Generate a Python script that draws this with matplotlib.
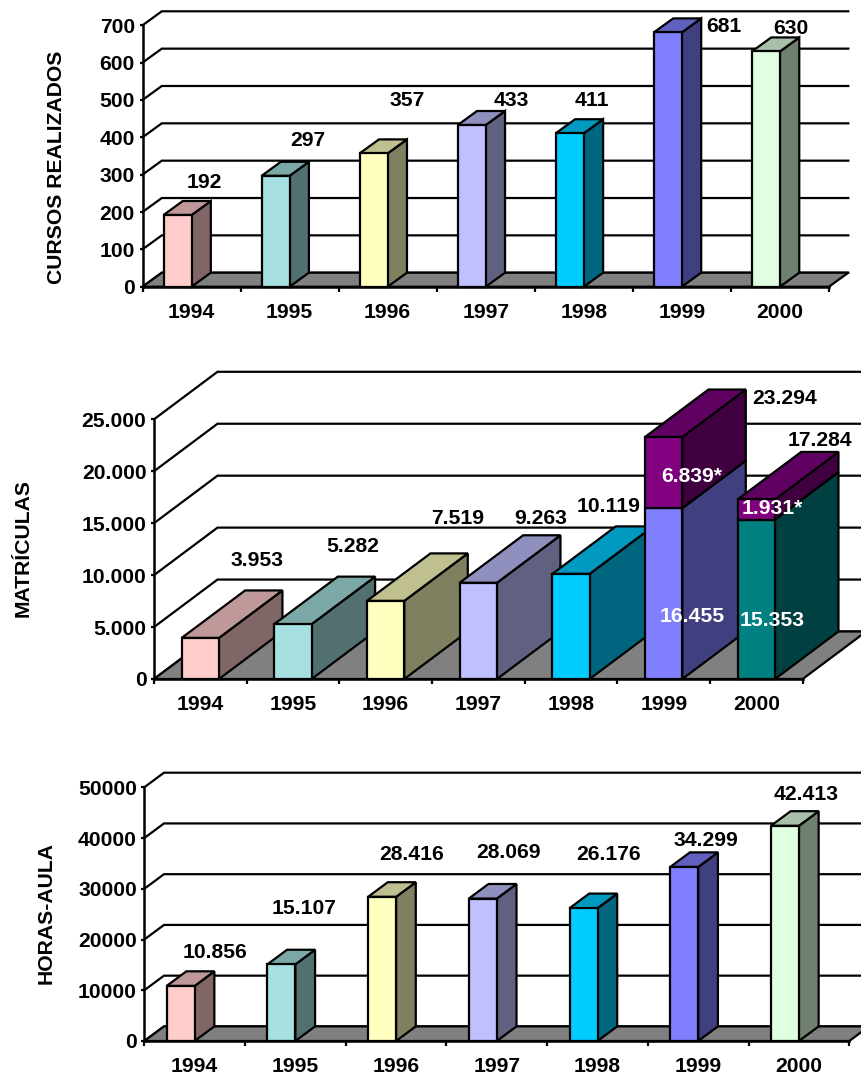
import matplotlib
matplotlib.use("Agg")
import matplotlib.pyplot as plt
from matplotlib.patches import Polygon

plt.rcParams['font.family'] = ['Liberation Sans', 'DejaVu Sans']
plt.rcParams['font.weight'] = 'bold'

W, H = 861, 1077
FS = 15.2
LW = 1.6

years = ['1994', '1995', '1996', '1997', '1998', '1999', '2000']

# value series
cursos = [192, 297, 357, 433, 411, 681, 630]
matriculas = [3953, 5282, 7519, 9263, 10119, 16455, 15353]
matriculas_extra = [0, 0, 0, 0, 0, 6839, 1931]
horas = [10856, 15107, 28416, 28069, 26176, 34299, 42413]

# printed labels and where they sit, in pixels from the top left
cursos_labels = ['192', '297', '357', '433', '411', '681', '630']
cursos_pos = [(204, 183), (308, 141), (407, 101), (511, 101), (592, 100), (724, 27), (791, 28)]
matric_labels = ['3.953', '5.282', '7.519', '9.263', '10.119', '23.294', '17.284']
matric_pos = [(257, 561), (353, 547), (458, 519), (541, 519), (609, 506), (785, 399), (820, 441)]
matric_white = ['6.839*', '1.931*', '16.455', '15.353']
matric_white_pos = [(692, 477), (772, 509), (692, 617), (772, 620)]
horas_labels = ['10.856', '15.107', '28.416', '28.069', '26.176', '34.299', '42.413']
horas_pos = [(215, 953), (304, 908), (412, 854), (508, 853), (609, 854), (706, 840), (806, 795)]

front_colors = ['#FFCCCC', '#A6E0E0', '#FFFFC0', '#C0C0FF', '#00CCFF', '#8080FF', '#E0FFE0']
matric_colors = ['#FFCCCC', '#A6E0E0', '#FFFFC0', '#C0C0FF', '#00CCFF', '#8080FF', '#008080']
extra_color = '#800080'


def shade(color, k):
    rgb = matplotlib.colors.to_rgb(color)
    return tuple(c * k for c in rgb)


def px_text(fig, x, y, s, **kw):
    fig.text(x / W, 1 - y / H, s, ha='center', va='center', fontsize=FS, fontweight='bold', **kw)


def box(ax, x0, x1, y0, y1, dx, dy, color, z):
    # front, side and top faces of one bar segment
    faces = [
        ([(x1, y0), (x1 + dx, y0 + dy), (x1 + dx, y1 + dy), (x1, y1)], shade(color, 0.5)),
        ([(x0, y1), (x1, y1), (x1 + dx, y1 + dy), (x0 + dx, y1 + dy)], shade(color, 0.75)),
        ([(x0, y0), (x1, y0), (x1, y1), (x0, y1)], color),
    ]
    for pts, c in faces:
        ax.add_patch(Polygon(pts, closed=True, facecolor=c, edgecolor='black', linewidth=LW,
                             joinstyle='miter', clip_on=False, zorder=z))


def panel(fig, left, right, y0, ytop, ymax, step, tick_fmt, depth, bar_px, shift_px, series, colors, extra=None):
    ax = fig.add_axes([left / W, 1 - y0 / H, (right - left) / W, (y0 - ytop) / H])
    ax.set_xlim(0, 7)
    ax.set_ylim(0, ymax)
    ax.patch.set_visible(False)

    px_x = (right - left) / 7.0
    px_y = (y0 - ytop) / float(ymax)
    dx = depth[0] / px_x
    dy = depth[1] / px_y

    ticks = list(range(0, ymax + 1, step))
    for v in ticks:
        ax.plot([0, dx, 7 + dx], [v, v + dy, v + dy], color='black', lw=LW, clip_on=False, zorder=1,
                solid_joinstyle='miter')

    ax.add_patch(Polygon([(0, 0), (7, 0), (7 + dx, dy), (dx, dy)], closed=True, facecolor='#808080',
                         edgecolor='black', linewidth=LW, clip_on=False, zorder=2))

    w = bar_px / px_x
    shift = shift_px / px_x
    for i, v in enumerate(series):
        x0 = i + 0.5 + shift
        z = 3 + i
        box(ax, x0, x0 + w, 0, v, dx, dy, colors[i], z)
        if extra is not None and extra[i] > 0:
            box(ax, x0, x0 + w, v, v + extra[i], dx, dy, extra_color, z)

    for s in ['top', 'right']:
        ax.spines[s].set_visible(False)
    for s in ['left', 'bottom']:
        ax.spines[s].set_linewidth(1.8)
        ax.spines[s].set_zorder(20)

    ax.set_yticks(ticks)
    ax.set_yticklabels([tick_fmt(v) for v in ticks], fontsize=FS, fontweight='bold')
    ax.tick_params(axis='y', length=2.2, width=LW, pad=3.2)
    ax.set_xticks(range(8))
    ax.set_xticklabels([])
    ax.tick_params(axis='x', which='major', length=3.6, width=LW)
    ax.set_xticks([i + 0.5 for i in range(7)], minor=True)
    ax.set_xticklabels(years, minor=True, fontsize=FS, fontweight='bold')
    ax.tick_params(axis='x', which='minor', length=0, pad=11.5)
    return ax


fig = plt.figure(figsize=(W / 100, H / 100), dpi=100)

panel(fig, 142.5, 829, 286.7, 25.3, 700, 100, str, (19.3, 14), 28, -28, cursos, front_colors)
panel(fig, 154, 802.7, 679, 419.3, 25000, 5000,
      lambda v: '{0:,}'.format(v).replace(',', '.'), (63.5, 47.5), 37.3, -18.7,
      matriculas, matric_colors, extra=matriculas_extra)
panel(fig, 144.3, 849.3, 1041, 787.3, 50000, 10000, str, (19.7, 14.6), 28, -28, horas, front_colors)

px_text(fig, 57, 167, 'CURSOS REALIZADOS', rotation=90)
px_text(fig, 23, 548, 'MATRÍCULAS', rotation=90)
px_text(fig, 46, 913, 'HORAS-AULA', rotation=90)

for s, p in zip(cursos_labels, cursos_pos):
    px_text(fig, p[0], p[1], s, color='black', zorder=30)
for s, p in zip(matric_labels, matric_pos):
    px_text(fig, p[0], p[1], s, color='black', zorder=30)
for s, p in zip(matric_white, matric_white_pos):
    px_text(fig, p[0], p[1], s, color='white', zorder=30)
for s, p in zip(horas_labels, horas_pos):
    px_text(fig, p[0], p[1], s, color='black', zorder=30)

fig.savefig('out.png', dpi=100, facecolor='white')
